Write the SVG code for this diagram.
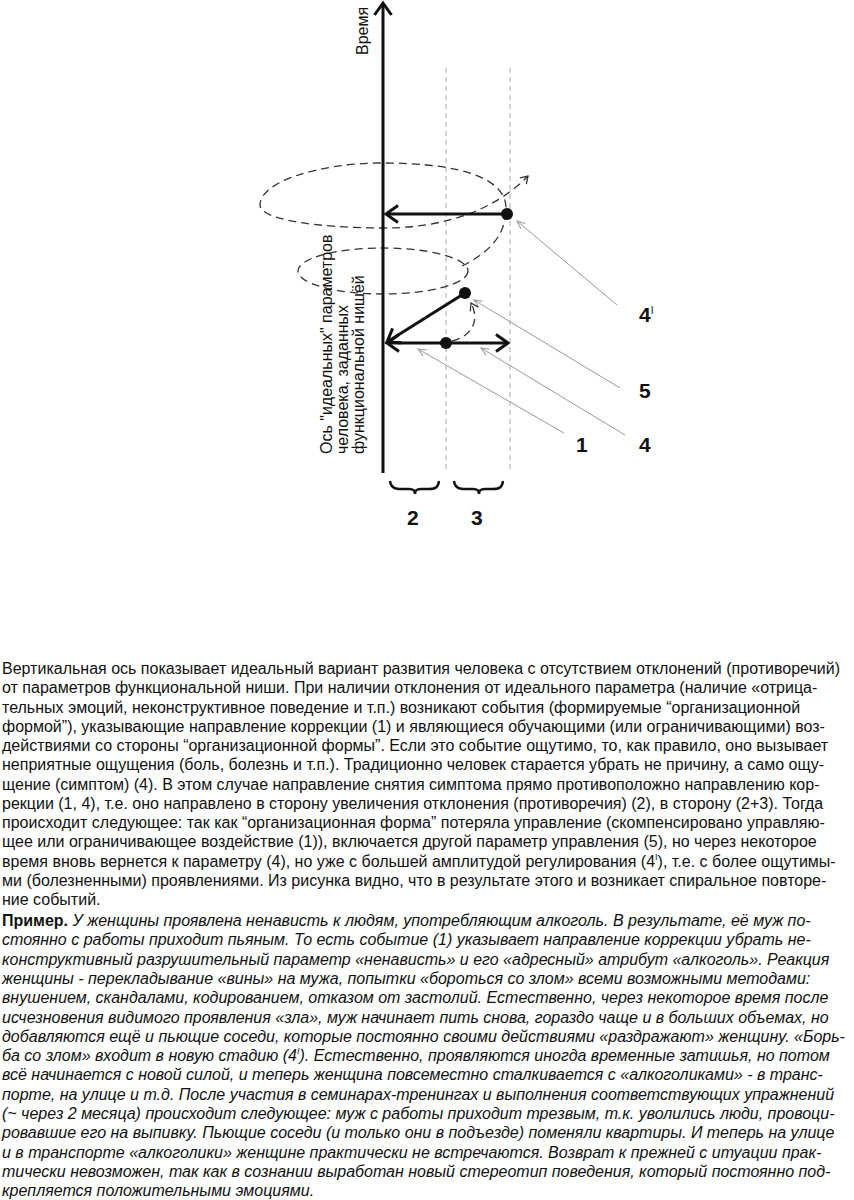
<svg xmlns="http://www.w3.org/2000/svg" width="854" height="1200" viewBox="0 0 854 1200">
<style>
.ax{stroke:#111;stroke-width:3;fill:none}
.grid{stroke:#aaa;stroke-width:1;stroke-dasharray:5 4;fill:none}
.sp{stroke:#333;stroke-width:1.3;stroke-dasharray:8 5;fill:none}
.ld{stroke:#999;stroke-width:1;fill:none}
.dot{fill:#111}
.lbl{font-family:"Liberation Sans",Arial,sans-serif;font-weight:bold;font-size:21px;fill:#111}
.vt{font-family:"Liberation Sans",Arial,sans-serif;font-size:16px;fill:#111}
.p{font-family:"Liberation Sans",Arial,sans-serif;font-size:16px;fill:#111}
.it{font-style:italic}
.br{stroke:#111;stroke-width:2.5;fill:none}
</style>
<defs>
<marker id="big" markerUnits="userSpaceOnUse" viewBox="-15 -11 18 22" refX="0" refY="0" markerWidth="18" markerHeight="22" orient="auto-start-reverse">
<path d="M-12,-8.5 L0,0 L-12,8.5" fill="none" stroke="#111" stroke-width="3" stroke-linejoin="miter"/>
</marker>
<marker id="sm" markerUnits="userSpaceOnUse" viewBox="-10 -6 12 12" refX="0" refY="0" markerWidth="12" markerHeight="12" orient="auto">
<path d="M-7,-4.5 L0,0 L-7,4.5" fill="none" stroke="#333" stroke-width="1.3"/>
</marker>
<marker id="ldr" markerUnits="userSpaceOnUse" viewBox="-10 -6 12 12" refX="0" refY="0" markerWidth="12" markerHeight="12" orient="auto">
<path d="M-8,-3.5 L0,0 L-8,3.5" fill="none" stroke="#999" stroke-width="1"/>
</marker>
</defs>
<rect width="854" height="1200" fill="#fff"/>

<g id="grid-lines">
<line class="grid" x1="446" y1="68" x2="446" y2="472"/>
<line class="grid" x1="510" y1="68" x2="510" y2="472"/>
</g>

<g id="spiral">
<ellipse class="sp" cx="383" cy="271" rx="85" ry="23"/>
<path class="sp" d="M462,266 C490,252 506,235 506,208 C506,180 465,163 383,163 C318,163 260,182 260,205 C260,220 320,228 383,228 C445,228 495,210 528,176" marker-end="url(#sm)"/>
<path class="sp" d="M452,341 C470,337 481,322 471,303" marker-end="url(#sm)"/>
</g>

<g id="axis">
<line class="ax" x1="383" y1="473" x2="383" y2="3" marker-end="url(#big)"/>
<text class="vt" transform="translate(368,55) rotate(-90)">Время</text>
<text class="vt" transform="translate(332,454) rotate(-90)"><tspan x="0" y="0">Ось "идеальных" параметров</tspan><tspan x="0" y="16">человека, заданных</tspan><tspan x="0" y="32">функциональной нишёй</tspan></text>
</g>

<g id="connectors">
<line class="ax" x1="507" y1="214" x2="386" y2="214" marker-end="url(#big)"/>
<line class="ax" x1="465" y1="293" x2="387" y2="342" marker-end="url(#big)"/>
<line class="ax" x1="387" y1="343" x2="508" y2="343" marker-start="url(#big)" marker-end="url(#big)"/>
<line class="ld" x1="617" y1="305" x2="517" y2="221" marker-end="url(#ldr)"/>
<line class="ld" x1="620" y1="388" x2="474" y2="300" marker-end="url(#ldr)"/>
<line class="ld" x1="625" y1="435" x2="481" y2="348" marker-end="url(#ldr)"/>
<line class="ld" x1="564" y1="433" x2="418" y2="349" marker-end="url(#ldr)"/>
</g>

<g id="points">
<circle class="dot" cx="507" cy="214" r="6"/>
<circle class="dot" cx="465" cy="293" r="6"/>
<circle class="dot" cx="446" cy="343" r="6"/>
</g>

<g id="labels">
<text class="lbl" x="639" y="322">4<tspan font-size="10" font-weight="normal" dy="-8">I</tspan></text>
<text class="lbl" x="639" y="398">5</text>
<text class="lbl" x="639" y="452">4</text>
<text class="lbl" x="576" y="452">1</text>
<text class="lbl" x="407" y="525">2</text>
<text class="lbl" x="471" y="525">3</text>
</g>

<g id="braces">
<path class="br" d="M390,481 C391,488 395,489 402,489 L409,489 C413,489 415,490 415,494 C415,490 417,489 421,489 L428,489 C435,489 438,488 439,481"/>
<path class="br" d="M454,481 C455,488 459,489 466,489 L473,489 C477,489 479,490 479,494 C479,490 481,489 485,489 L492,489 C499,489 502,488 503,481"/>
</g>

<g id="paragraph1" class="p">
<text x="2" y="674">Вертикальная ось показывает идеальный вариант развития человека с отсутствием отклонений (противоречий)</text>
<text x="2" y="693.3">от параметров функциональной ниши. При наличии отклонения от идеального параметра (наличие «отрица-</text>
<text x="2" y="712.5">тельных эмоций, неконструктивное поведение и т.п.) возникают события (формируемые “организационной</text>
<text x="2" y="731.8">формой”), указывающие направление коррекции (1) и являющиеся обучающими (или ограничивающими) воз-</text>
<text x="2" y="751">действиями со стороны “организационной формы”. Если это событие ощутимо, то, как правило, оно вызывает</text>
<text x="2" y="770.3">неприятные ощущения (боль, болезнь и т.п.). Традиционно человек старается убрать не причину, а само ощу-</text>
<text x="2" y="789.5">щение (симптом) (4). В этом случае направление снятия симптома прямо противоположно направлению кор-</text>
<text x="2" y="808.8">рекции  (1, 4), т.е. оно направлено в сторону увеличения отклонения (противоречия) (2), в сторону (2+3). Тогда</text>
<text x="2" y="828">происходит следующее: так как “организационная форма” потеряла управление (скомпенсировано управляю-</text>
<text x="2" y="847.3">щее или ограничивающее воздействие (1)),  включается другой параметр управления (5), но через некоторое</text>
<text x="2" y="866.5">время вновь вернется к параметру (4), но уже с большей амплитудой регулирования (4<tspan font-size="9" dy="-7">I</tspan><tspan dy="7">), т.е. с более ощутимы-</tspan></text>
<text x="2" y="885.8">ми (болезненными) проявлениями. Из рисунка видно, что в результате этого и возникает спиральное повторе-</text>
<text x="2" y="905">ние событий.</text>
</g>

<g id="paragraph2" class="p">
<text x="2" y="926"><tspan font-weight="bold">Пример.</tspan><tspan class="it"> У женщины проявлена ненависть к людям, употребляющим алкоголь. В результате, её муж по-</tspan></text>
<text class="it" x="2" y="945.3">стоянно с работы приходит пьяным. То есть событие (1) указывает направление коррекции  убрать не-</text>
<text class="it" x="2" y="964.6">конструктивный разрушительный параметр «ненависть» и его «адресный» атрибут «алкоголь». Реакция</text>
<text class="it" x="2" y="983.9">женщины - перекладывание «вины» на мужа, попытки «бороться со злом» всеми возможными методами:</text>
<text class="it" x="2" y="1003.2">внушением, скандалами, кодированием, отказом от застолий. Естественно, через некоторое время после</text>
<text class="it" x="2" y="1022.5">исчезновения видимого проявления «зла», муж начинает пить снова, гораздо чаще и в больших объемах, но</text>
<text class="it" x="2" y="1041.8">добавляются ещё и пьющие соседи, которые постоянно своими действиями «раздражают» женщину. «Борь-</text>
<text class="it" x="2" y="1061.1">ба со злом» входит в новую стадию (4<tspan font-size="9" dy="-7">I</tspan><tspan dy="7">). Естественно, проявляются иногда временные затишья, но потом</tspan></text>
<text class="it" x="2" y="1080.4">всё начинается с новой силой, и теперь женщина повсеместно сталкивается с «алкоголиками» - в транс-</text>
<text class="it" x="2" y="1099.7">порте, на улице и т.д. После участия в семинарах-тренингах и выполнения соответствующих упражнений</text>
<text class="it" x="2" y="1119">(~ через 2 месяца) происходит следующее: муж с работы приходит трезвым, т.к. уволились люди, провоци-</text>
<text class="it" x="2" y="1138.3">ровавшие его на выпивку. Пьющие соседи (и только они в подъезде) поменяли квартиры. И теперь на улице</text>
<text class="it" x="2" y="1157.6">и в транспорте «алкоголики» женщине практически не встречаются. Возврат к прежней с итуации прак-</text>
<text class="it" x="2" y="1176.9">тически невозможен, так как в сознании выработан новый стереотип поведения, который постоянно под-</text>
<text class="it" x="2" y="1196.2">крепляется положительными эмоциями.</text>
</g>
</svg>
